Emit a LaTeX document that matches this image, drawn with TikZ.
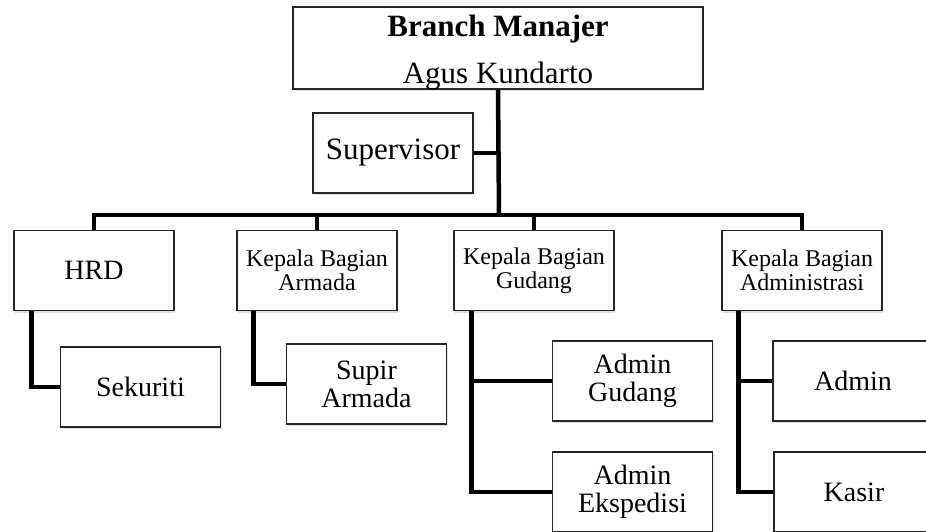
\documentclass[tikz,border=0pt]{standalone}
\usepackage{fontspec}
\setmainfont{Liberation Serif}
\usetikzlibrary{shadows}

\begin{document}
\begin{tikzpicture}[x=1pt, y=-1pt]
  \tikzstyle{box}=[draw=black!85, line width=1.2pt, fill=white, inner sep=0pt,
    minimum width=160pt, minimum height=80pt, align=center,
    drop shadow={opacity=0.25, shadow xshift=1pt, shadow yshift=-2pt}]
  \tikzstyle{big}=[font=\fontsize{31}{31}\selectfont]
  \tikzstyle{mid}=[font=\fontsize{28}{28}\selectfont]
  \tikzstyle{small}=[font=\fontsize{24}{24}\selectfont]
  \tikzstyle{link}=[line width=4.5pt]

  \useasboundingbox (0,0) rectangle (926,531);
  \clip (0,0) rectangle (926,531);

  \node[box, minimum width=410pt, minimum height=82pt] (boss) at (498,48) {}; % Top box
  \node[big, anchor=base] (bosstitle) at (498,36) {\textbf{Branch Manajer}};
  \node[big, anchor=base] (bossname) at (498,83) {Agus Kundarto};
  \node[box, big] (sup) at (393,153) {Supervisor};

  \node[box, mid] (hrd) at (94,270.5) {HRD};
  \node[box, small] (armada) at (317,270.5) {Kepala Bagian\\Armada};
  \node[box, small] (gudang) at (534,270.5) {Kepala Bagian\\Gudang};
  \node[box, small] (adm) at (802,270.5) {Kepala Bagian\\Administrasi};

  \node[box, mid] (sek) at (140.5,387) {Sekuriti};
  \node[box, mid] (supir) at (366.5,384) {Supir\\Armada};
  \node[box, mid] (admgud) at (632.5,381) {Admin\\Gudang};
  \node[box, mid] (admeks) at (632.5,492) {Admin\\Ekspedisi};
  \node[box, mid] (admin) at (853,381) {Admin};
  \node[box, mid] (kasir) at (854,492) {Kasir};

  \coordinate (bus) at (499,215); % Middle of the bus line
  \draw[link] (boss.south) -- (bus); % Trunk
  \draw[link] (sup.east) -- (sup.east -| bus);
  \draw[link] (bus) -| (hrd);
  \draw[link] (bus) -| (armada);
  \draw[link] (bus) -| (gudang);
  \draw[link] (bus) -| (adm);

  \draw[link] ([xshift=18pt]hrd.south west) |- (sek.west);
  \draw[link] ([xshift=17pt]armada.south west) |- (supir.west);
  \draw[link] ([xshift=18pt]gudang.south west) |- (admgud.west);
  \draw[link] ([xshift=18pt]gudang.south west) |- (admeks.west);
  \draw[link] ([xshift=17pt]adm.south west) |- (admin.west);
  \draw[link] ([xshift=17pt]adm.south west) |- (kasir.west);
\end{tikzpicture}
\end{document}
